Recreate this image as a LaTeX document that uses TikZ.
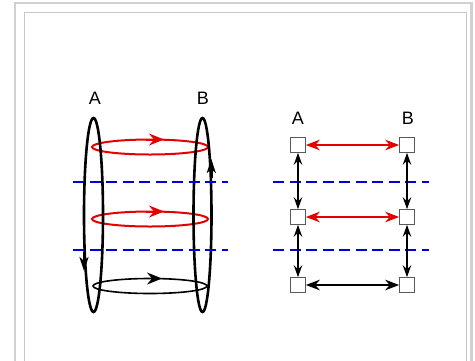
\documentclass[tikz,border=0pt]{standalone}
\usepackage{fontspec}
\setmainfont{Liberation Sans}
\usetikzlibrary{arrows.meta}
\begin{document}
\begin{tikzpicture}[x=1pt,y=-1pt,
  hhead/.tip={Stealth[length=14pt,width=10.5pt,inset=4.5pt]},
  vhead/.tip={Stealth[length=12pt,width=8.5pt,inset=4pt]},
  lbl/.style={font=\fontsize{18}{18}\selectfont, inner sep=0pt},
  vring/.style={line width=2.6pt, black},
  redring/.style={line width=2pt, red!90!black},
  blkring/.style={line width=1.6pt, black},
  cut/.style={line width=2.4pt, blue!85!black, dash pattern=on 11pt off 5.5pt},
  bigtip/.style={-{Stealth[length=15pt,width=12pt,inset=5pt]}},
  vtip/.style={-{Stealth[length=14pt,width=9pt,inset=4pt]}},
  sq/.style={draw=black!65, fill=white, line width=1.1pt, minimum size=14.5pt, inner sep=0pt},
  redlink/.style={red!90!black, line width=2.2pt, hhead-hhead},
  blklink/.style={black, line width=2pt, hhead-hhead},
  vlink/.style={black, line width=1.5pt, vhead-vhead}
]
\useasboundingbox (0,0) rectangle (475,360);
\fill[white] (0,0) rectangle (475,360);
% frame
\draw[black!18, line width=2.5pt] (15,362) -- (15,3.2) -- (471.5,3.2) -- (471.5,362);
\draw[black!22, line width=1pt] (24.5,362) -- (24.5,12.5) -- (466.5,12.5) -- (466.5,362);

% ---------- left figure ----------
\node[lbl] (la) at (95,98) {A};
\node[lbl] (lb) at (203,98) {B};
\draw[redring] (150,147) ellipse (58pt and 7.5pt);
\draw[redring] (150,219) ellipse (58pt and 7.5pt);
\draw[blkring] (150,286) ellipse (57pt and 7.5pt);
\draw[vring] (93.5,215) ellipse (9.5pt and 97pt);
\draw[vring] (202.5,215) ellipse (9pt and 97pt);
% arrowheads on rings
\draw[redring, bigtip] (146,139.5) -- (164,139.5);
\draw[redring, bigtip] (146,211.5) -- (164,211.5);
\draw[blkring, bigtip] (144,278.5) -- (162,278.5);
\draw[vring, vtip] (84,252) -- (84,271);
\draw[vring, vtip] (211.3,178) -- (211.3,159);
% cuts
\draw[cut] (73,182) -- (228,182);
\draw[cut] (73,250) -- (228,250);

% ---------- right figure ----------
\node[lbl] (ra) at (298,118) {A};
\node[lbl] (rb) at (408,118) {B};
\node[sq] (a1) at (298,145) {};
\node[sq] (a2) at (298,217) {};
\node[sq] (a3) at (298,285) {};
\node[sq] (b1) at (407,145) {};
\node[sq] (b2) at (407,217) {};
\node[sq] (b3) at (407,285) {};
\draw[cut] (273,182) -- (429,182);
\draw[cut] (273,250) -- (429,250);
\draw[redlink] (a1) -- (b1);
\draw[redlink] (a2) -- (b2);
\draw[blklink] (a3) -- (b3);
\draw[vlink] (a1) -- (a2);
\draw[vlink] (a2) -- (a3);
\draw[vlink] (b1) -- (b2);
\draw[vlink] (b2) -- (b3);
\end{tikzpicture}
\end{document}
